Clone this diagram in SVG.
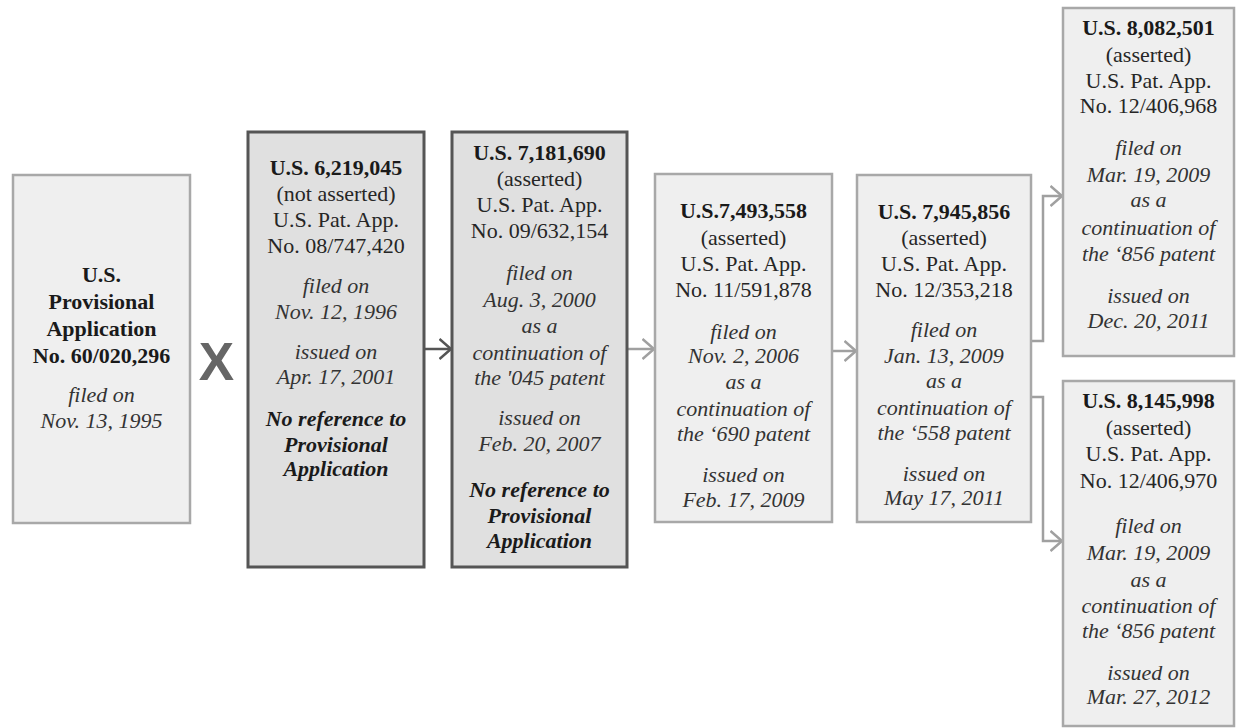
<svg xmlns="http://www.w3.org/2000/svg" width="1236" height="728" viewBox="0 0 1236 728">
<defs>
<style>
.lt{fill:#efefef;stroke:#a8a8a8;stroke-width:2.5}
.dk{fill:#e0e0e0;stroke:#555;stroke-width:3}
text{font-family:"Liberation Serif","Times New Roman",serif;font-size:22px;text-anchor:middle;fill:#262626}
.b{font-weight:bold;fill:#1a1a1a}
.i{font-style:italic;fill:#333}
.bi{font-weight:bold;font-style:italic;fill:#1a1a1a}
.cd{fill:none;stroke:#555;stroke-width:2.5}
.cl{fill:none;stroke:#a0a0a0;stroke-width:2.5}
</style>
<marker id="ad" viewBox="0 0 14 22" refX="12.5" refY="11" markerWidth="14" markerHeight="22" markerUnits="userSpaceOnUse" orient="auto"><path d="M1,1 L12.5,11 L1,21" fill="none" stroke="#555" stroke-width="2.5"/></marker>
<marker id="al" viewBox="0 0 14 22" refX="12.5" refY="11" markerWidth="14" markerHeight="22" markerUnits="userSpaceOnUse" orient="auto"><path d="M1,1 L12.5,11 L1,21" fill="none" stroke="#a0a0a0" stroke-width="2.5"/></marker>
</defs>
<rect width="1236" height="728" fill="#fff"/>

<g id="connectors">
<path class="cd" d="M425,349 H451" marker-end="url(#ad)"/>
<path class="cl" d="M628,349 H654" marker-end="url(#al)"/>
<path class="cl" d="M833,351 H856" marker-end="url(#al)"/>
<path class="cl" d="M1031,341 H1043 V196 H1062" marker-end="url(#al)"/>
<path class="cl" d="M1031,397 H1043 V541 H1062" marker-end="url(#al)"/>
</g>

<g id="provisional">
<rect class="lt" x="13" y="175" width="177" height="348"/>
<text class="b"><tspan x="101.5" y="282">U.S.</tspan><tspan x="101.5" y="309">Provisional</tspan><tspan x="101.5" y="336">Application</tspan><tspan x="101.5" y="363">No. 60/020,296</tspan></text>
<text class="i"><tspan x="101.5" y="402">filed on</tspan><tspan x="101.5" y="428">Nov. 13, 1995</tspan></text>
</g>

<g id="x-mark">
<text x="216.5" y="380" style="font-family:'Liberation Sans',Arial,sans-serif;font-weight:bold;font-size:53px;fill:#666">X</text>
</g>

<g id="p045">
<rect class="dk" x="248" y="132" width="176" height="435"/>
<text><tspan class="b" x="336" y="175">U.S. 6,219,045</tspan><tspan x="336" y="201">(not asserted)</tspan><tspan x="336" y="227">U.S. Pat. App.</tspan><tspan x="336" y="253">No. 08/747,420</tspan></text>
<text class="i"><tspan x="336" y="293">filed on</tspan><tspan x="336" y="319">Nov. 12, 1996</tspan><tspan x="336" y="359">issued on</tspan><tspan x="336" y="384">Apr. 17, 2001</tspan></text>
<text class="bi"><tspan x="336" y="426">No reference to</tspan><tspan x="336" y="452">Provisional</tspan><tspan x="336" y="476">Application</tspan></text>
</g>

<g id="p690">
<rect class="dk" x="452" y="132" width="175" height="435"/>
<text><tspan class="b" x="539.5" y="160">U.S. 7,181,690</tspan><tspan x="539.5" y="186">(asserted)</tspan><tspan x="539.5" y="212">U.S. Pat. App.</tspan><tspan x="539.5" y="238">No. 09/632,154</tspan></text>
<text class="i"><tspan x="539.5" y="280">filed on</tspan><tspan x="539.5" y="307">Aug. 3, 2000</tspan><tspan x="539.5" y="333">as a</tspan><tspan x="539.5" y="360">continuation of</tspan><tspan x="539.5" y="385">the '045 patent</tspan><tspan x="539.5" y="425">issued on</tspan><tspan x="539.5" y="451">Feb. 20, 2007</tspan></text>
<text class="bi"><tspan x="539.5" y="497">No reference to</tspan><tspan x="539.5" y="523">Provisional</tspan><tspan x="539.5" y="548">Application</tspan></text>
</g>

<g id="p558">
<rect class="lt" x="655" y="174" width="177" height="348"/>
<text><tspan class="b" x="743.5" y="218">U.S.7,493,558</tspan><tspan x="743.5" y="245">(asserted)</tspan><tspan x="743.5" y="271">U.S. Pat. App.</tspan><tspan x="743.5" y="297">No. 11/591,878</tspan></text>
<text class="i"><tspan x="743.5" y="339">filed on</tspan><tspan x="743.5" y="363">Nov. 2, 2006</tspan><tspan x="743.5" y="389">as a</tspan><tspan x="743.5" y="416">continuation of</tspan><tspan x="743.5" y="441">the ‘690 patent</tspan><tspan x="743.5" y="482">issued on</tspan><tspan x="743.5" y="507">Feb. 17, 2009</tspan></text>
</g>

<g id="p856">
<rect class="lt" x="857" y="175" width="174" height="347"/>
<text><tspan class="b" x="944" y="219">U.S. 7,945,856</tspan><tspan x="944" y="245">(asserted)</tspan><tspan x="944" y="271">U.S. Pat. App.</tspan><tspan x="944" y="297">No. 12/353,218</tspan></text>
<text class="i"><tspan x="944" y="337">filed on</tspan><tspan x="944" y="363">Jan. 13, 2009</tspan><tspan x="944" y="388">as a</tspan><tspan x="944" y="415">continuation of</tspan><tspan x="944" y="440">the ‘558 patent</tspan><tspan x="944" y="481">issued on</tspan><tspan x="944" y="505">May 17, 2011</tspan></text>
</g>

<g id="p501">
<rect class="lt" x="1063" y="8" width="171" height="348"/>
<text><tspan class="b" x="1148.5" y="35">U.S. 8,082,501</tspan><tspan x="1148.5" y="62">(asserted)</tspan><tspan x="1148.5" y="88">U.S. Pat. App.</tspan><tspan x="1148.5" y="113">No. 12/406,968</tspan></text>
<text class="i"><tspan x="1148.5" y="155">filed on</tspan><tspan x="1148.5" y="182">Mar. 19, 2009</tspan><tspan x="1148.5" y="207">as a</tspan><tspan x="1148.5" y="235">continuation of</tspan><tspan x="1148.5" y="261">the ‘856 patent</tspan><tspan x="1148.5" y="303">issued on</tspan><tspan x="1148.5" y="328">Dec. 20, 2011</tspan></text>
</g>

<g id="p998">
<rect class="lt" x="1063" y="381" width="171" height="345"/>
<text><tspan class="b" x="1148.5" y="408">U.S. 8,145,998</tspan><tspan x="1148.5" y="435">(asserted)</tspan><tspan x="1148.5" y="461">U.S. Pat. App.</tspan><tspan x="1148.5" y="488">No. 12/406,970</tspan></text>
<text class="i"><tspan x="1148.5" y="533">filed on</tspan><tspan x="1148.5" y="560">Mar. 19, 2009</tspan><tspan x="1148.5" y="587">as a</tspan><tspan x="1148.5" y="613">continuation of</tspan><tspan x="1148.5" y="638">the ‘856 patent</tspan><tspan x="1148.5" y="680">issued on</tspan><tspan x="1148.5" y="704">Mar. 27, 2012</tspan></text>
</g>
</svg>
